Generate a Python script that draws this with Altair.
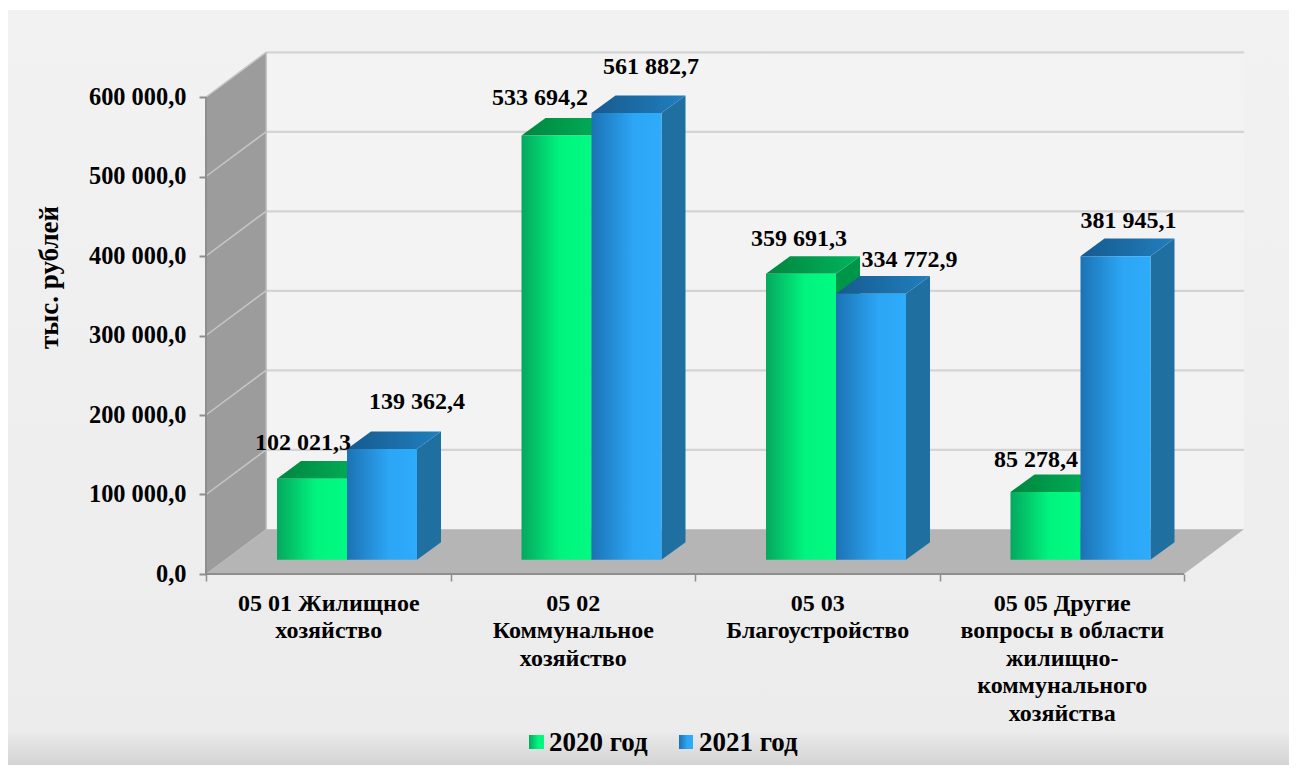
import altair as alt
import pandas as pd

categories = [["05 01 Жилищное", "хозяйство"],
              ["05 02", "Коммунальное", "хозяйство"],
              ["05 03", "Благоустройство"],
              ["05 05 Другие", "вопросы в области", "жилищно-", "коммунального", "хозяйства"]]
series_names = ["2020 год", "2021 год"]
values_2020 = [102021.3, 533694.2, 359691.3, 85278.4]
values_2021 = [139362.4, 561882.7, 334772.9, 381945.1]
y_ticks = [0, 100000, 200000, 300000, 400000, 500000, 600000]

# geometry: pixels per unit of each scale
PX_X = 244.5
PX_Y = 79.5 / 100000
PLOT_W, PLOT_H = 1039, 522
ORIGIN_X, ORIGIN_Y = 206, 52
FONT = "Liberation Serif"


def ux(px):
    return px / PX_X


def uy(px):
    return px / PX_Y


def page_x(px):
    return (px - ORIGIN_X) / PX_X


def page_y(py):
    return (ORIGIN_Y + PLOT_H - py) / PX_Y


WALL_DX, WALL_DY = ux(60), uy(44.7)
BAR_W = ux(70)
BAR_LEFT = ux(71)
BAR_BASE = uy(14.2)
BAR_DX, BAR_DY = ux(24), uy(17.6)

xscale = alt.Scale(domain=[0, PLOT_W / PX_X], nice=False, zero=False)
yscale = alt.Scale(domain=[0, PLOT_H / PX_Y], nice=False, zero=False)


def X(f="x", axis=None):
    return alt.X(f"{f}:Q", scale=xscale, axis=axis, title=None)


def Y(f="y", axis=None):
    return alt.Y(f"{f}:Q", scale=yscale, axis=axis, title=None)


def grad(stops, horizontal=True):
    return alt.Gradient(
        gradient="linear",
        x1=0, y1=0,
        x2=1 if horizontal else 0,
        y2=0 if horizontal else 1,
        stops=[alt.GradientStop(offset=o, color=c) for o, c in stops],
    )


def area_layer(rows, fill, key="k"):
    df = pd.DataFrame(rows)
    return alt.Chart(df).mark_area(fill=fill, opacity=1, stroke=None, line=False).encode(
        x=X(), y=Y(), y2=alt.Y2("y2:Q"), detail=f"{key}:N"
    )


def rule_layer(rows, color, width):
    return alt.Chart(pd.DataFrame(rows)).mark_rule(color=color, strokeWidth=width).encode(
        x=X("x"), x2=alt.X2("x2:Q"), y=Y("y"), y2=alt.Y2("y2:Q")
    )


def rect_layer(rows, fill):
    return alt.Chart(pd.DataFrame(rows)).mark_rect(fill=fill, opacity=1).encode(
        x=X("x"), x2=alt.X2("x2:Q"), y=Y("y"), y2=alt.Y2("y2:Q")
    )


def side_rows(i, left, v):
    r = left + BAR_W
    top = BAR_BASE + v
    return [
        {"k": i, "x": r, "y": top, "y2": BAR_BASE},
        {"k": i, "x": r + BAR_DX, "y": top + BAR_DY, "y2": BAR_BASE + BAR_DY},
    ]


def top_rows(i, left, v):
    r = left + BAR_W
    top = BAR_BASE + v
    return [
        {"k": i, "x": left, "y": top, "y2": top},
        {"k": i, "x": left + BAR_DX, "y": top + BAR_DY, "y2": top},
        {"k": i, "x": r, "y": top + BAR_DY, "y2": top},
        {"k": i, "x": r + BAR_DX, "y": top + BAR_DY, "y2": top + BAR_DY},
    ]


def bar_series(vals, shift, front, top, side):
    lefts = [i + BAR_LEFT + shift * BAR_W for i in range(len(vals))]
    sides, tops, fronts = [], [], []
    for i, (l, v) in enumerate(zip(lefts, vals)):
        sides += side_rows(i, l, v)
        tops += top_rows(i, l, v)
        fronts.append({"x": l, "x2": l + BAR_W, "y": BAR_BASE + v, "y2": BAR_BASE})
    return [area_layer(sides, side), area_layer(tops, top), rect_layer(fronts, front)]


GREEN_FRONT = grad([(0, "#05a85e"), (0.55, "#00f47e"), (1, "#00fb82")])
GREEN_TOP = grad([(0, "#00853f"), (1, "#00b65b")])
BLUE_FRONT = grad([(0, "#1c72b4"), (0.6, "#2ca6f5"), (1, "#2eabfb")])
BLUE_TOP = grad([(0, "#165a8e"), (1, "#217fbf")])
BLUE_SIDE = "#1f6fa1"
GREEN_SIDE = "#00964a"

# page background, spilling outside of the plot area but staying inside the page
background = alt.Chart(pd.DataFrame({"a": [0]})).mark_rect(
    fill=grad([(0, "#f2f2f2"), (0.9576, "#ececec"), (0.958, "#e9e9e9"), (0.98, "#dedede"), (1, "#d4d4d4")], horizontal=False),
    opacity=1,
).encode(x=alt.value(-198), x2=alt.value(1083), y=alt.value(-42), y2=alt.value(713))

back_wall = rect_layer([{"x": WALL_DX, "x2": 4 + WALL_DX, "y": 600000 + WALL_DY, "y2": WALL_DY}], "#f3f3f3")
left_wall = area_layer([
    {"k": 0, "x": 0, "y": 600000, "y2": 0},
    {"k": 0, "x": WALL_DX, "y": 600000 + WALL_DY, "y2": WALL_DY},
], "#9c9c9c")
floor = area_layer([
    {"k": 0, "x": 0, "y": 0, "y2": 0},
    {"k": 0, "x": WALL_DX, "y": WALL_DY, "y2": 0},
    {"k": 0, "x": 4, "y": WALL_DY, "y2": 0},
    {"k": 0, "x": 4 + WALL_DX, "y": WALL_DY, "y2": WALL_DY},
], "#b5b5b5")

back_grid = rule_layer([{"x": WALL_DX, "x2": 4 + WALL_DX, "y": v + WALL_DY, "y2": v + WALL_DY} for v in y_ticks[1:]], "#d4d4d4", 2.2)
wall_edge = rule_layer([{"x": WALL_DX, "x2": WALL_DX, "y": WALL_DY, "y2": 600000 + WALL_DY}], "#b4b4b4", 1.5)
wall_grid = rule_layer([{"x": 0, "x2": WALL_DX, "y": v, "y2": v + WALL_DY} for v in y_ticks[1:]], "#c6c6c6", 1.5)
front_axes = rule_layer([
    {"x": 0, "x2": 4, "y": 0, "y2": 0},
    {"x": 0, "x2": 0, "y": 0, "y2": 600000},
], "#8e8e8e", 2)

# axes
y_axis = alt.Axis(
    values=y_ticks, domain=False, grid=False, zindex=1, tickSize=7, tickColor="#8e8e8e", tickWidth=2,
    labelFont=FONT, labelFontWeight="bold", labelFontSize=24.4, labelColor="black", labelPadding=13,
    labelExpr="replace(replace(format(datum.value, ',.1f'), /,/g, ' '), '.', ',')",
    title="тыс. рублей", titleFont=FONT, titleFontWeight="bold", titleFontSize=27, titleColor="black",
    titleAngle=270, titleX=-157, titleY=225, titleAlign="center", titleBaseline="middle",
)
tick_axis = alt.Axis(
    orient="bottom", values=[0, 1, 2, 3, 4], domain=False, grid=False, labels=False, zindex=1,
    tickSize=7, tickColor="#8e8e8e", tickWidth=1.5,
)
js_labels = "[" + ",".join("[" + ",".join(f"'{p}'" for p in c) + "]" for c in categories) + "]"
label_axis = alt.Axis(
    orient="bottom", values=[0.5, 1.5, 2.5, 3.5], domain=False, grid=False, ticks=False, zindex=1,
    labelFont=FONT, labelFontWeight="bold", labelFontSize=24, labelColor="black", labelPadding=17,
    labelExpr=f"{js_labels}[floor(datum.value)]", labelLineHeight=27.6, labelBaseline="top",
    labelOverlap=False, labelBound=False, labelFlush=False, labelLimit=400,
)
axis_base = alt.Chart(pd.DataFrame({"x": [0.0], "y": [0.0]})).mark_point(opacity=0, size=1)
y_axis_layer = axis_base.encode(x=X(), y=Y(axis=y_axis))
tick_layer = axis_base.encode(x=X(axis=tick_axis), y=Y())
label_layer = axis_base.encode(x=X(axis=label_axis), y=Y())

# data labels: offsets of each label from the top centre of its bar's front face, px
label_off_2020 = [(-9, 35.7), (-16.5, 37.2), (-2, 34.5), (-9.4, 31.7)]
label_off_2021 = [(35, 46.7), (24.5, 45.8), (38.5, 33.4), (13, 34.9)]


def fmt(v):
    return f"{v:,.1f}".replace(",", " ").replace(".", ",")


rows = []
for shift, vals, offs in ((0, values_2020, label_off_2020), (1, values_2021, label_off_2021)):
    for i, (v, (dx, dy)) in enumerate(zip(vals, offs)):
        rows.append({
            "x": i + BAR_LEFT + (shift + 0.5) * BAR_W + ux(dx),
            "y": BAR_BASE + v + uy(dy),
            "t": fmt(v),
        })
data_labels = alt.Chart(pd.DataFrame(rows)).mark_text(
    font=FONT, fontWeight="bold", fontSize=24, color="black", align="center", baseline="middle"
).encode(x=X(), y=Y(), text="t:N")

# legend
legend_squares = [
    rect_layer([{"x": page_x(529), "x2": page_x(544), "y": page_y(735), "y2": page_y(749)}], grad([(0, "#05a85e"), (0.6, "#00f47e"), (1, "#00fb82")])),
    rect_layer([{"x": page_x(679), "x2": page_x(693), "y": page_y(735), "y2": page_y(749)}], grad([(0, "#1c72b4"), (0.6, "#2ca6f5"), (1, "#2eabfb")])),
]
legend_text = alt.Chart(pd.DataFrame([
    {"x": page_x(549), "y": page_y(743), "t": series_names[0]},
    {"x": page_x(699), "y": page_y(743), "t": series_names[1]},
])).mark_text(
    font=FONT, fontWeight="bold", fontSize=27, color="black", align="left", baseline="middle"
).encode(x=X(), y=Y(), text="t:N")

chart = alt.layer(
    background, back_wall, left_wall, floor, back_grid, wall_edge, wall_grid, front_axes,
    *bar_series(values_2020, 0, GREEN_FRONT, GREEN_TOP, GREEN_SIDE),
    *bar_series(values_2021, 1, BLUE_FRONT, BLUE_TOP, BLUE_SIDE),
    data_labels, *legend_squares, legend_text,
    y_axis_layer, tick_layer, label_layer,
).resolve_axis(x="independent", y="independent").properties(
    width=PLOT_W, height=PLOT_H, background="white",
    padding={"left": 0, "top": 2, "right": 0, "bottom": 0},
).configure_view(stroke=None)

chart.save("out.html", embed_options={"renderer": "svg", "actions": False})
